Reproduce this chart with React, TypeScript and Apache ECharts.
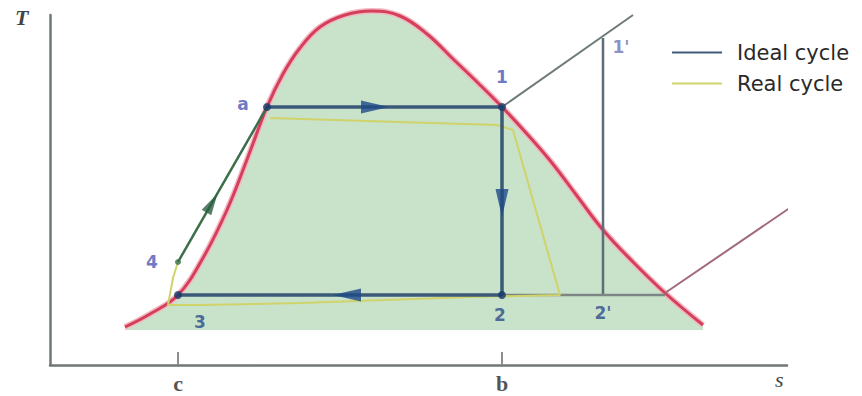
import React, { useEffect, useRef } from "react";
import * as echarts from "echarts";

// Coordinates in data units: s (entropy, horizontal) and T (temperature, vertical)
const domeS = [75, 100, 128, 153, 177, 198, 217, 233, 250, 270, 295, 322, 350, 377, 403, 428, 452, 477, 502, 527, 553, 583, 615, 653];
const domeT = [38, 51, 70, 107, 155, 208, 258, 291, 317, 338, 350, 354, 349, 331, 306, 282, 258, 231, 202, 169, 135, 103, 72, 40];

// ideal cycle: a -> 1 -> 2 -> 3
const idealS = [217, 452, 452, 128];
const idealT = [258, 258, 70, 70];
// liquid heating 4 -> a
const heatS = [128, 217];
const heatT = [103, 258];
// real cycle
const realS = [220, 447, 463, 510, 420, 250, 150, 118, 123, 128];
const realT = [247, 240, 235, 70, 68, 62, 60, 60, 87, 103];
// superheat isobar from 1, expansion 1'->2', condenser extension, right isobar
const superS = [452, 583];
const superT = [258, 350];
const expS = [553, 553];
const expT = [327, 70];
const condS = [452, 615];
const condT = [70, 70];
const rightS = [615, 747];
const rightT = [72, 162];

const pointNames = ["a", "1", "1'", "4", "3", "2", "2'"];
const pointLabelS = [193, 452, 571, 102, 150, 450, 553];
const pointLabelT = [261, 288, 318, 103, 43, 50, 52];
const pointLabelColors = ["#4656b4", "#4656b4", "#6a74b8", "#4656b4", "#2c4a8a", "#2c4a8a", "#2c4a8a"];

const dotS = [217, 452, 452, 128];
const dotT = [258, 258, 70, 70];

const arrowS = [325, 452, 297];
const arrowT = [258, 162, 70];
const arrowRot = [-90, 180, 90];

const tickValues = [128, 452];
const tickNames = ["c", "b"];

const legendNames = ["Ideal cycle", "Real cycle"];

const zip = (a: number[], b: number[]) => a.map((v, i) => [v, b[i]]);

export default function App() {
  const ref = useRef<HTMLDivElement>(null);
  useEffect(() => {
    if (!ref.current) return;
    const chart = echarts.init(ref.current, null, { renderer: "svg" });
    const greyLine = (data: number[][], color: string, width: number) => ({
      type: "line",
      data,
      showSymbol: false,
      clip: false,
      silent: true,
      lineStyle: { color, width },
      z: 3,
    });
    chart.setOption({
      animation: false,
      backgroundColor: "#ffffff",
      grid: { left: 50, right: 75, top: 15, bottom: 31, containLabel: false },
      xAxis: {
        type: "value",
        min: 0,
        max: 737,
        splitLine: { show: false },
        axisLine: { lineStyle: { color: "#6f7777", width: 2.5 } },
        axisTick: {
          show: true,
          inside: true,
          length: 13,
          customValues: tickValues,
          lineStyle: { color: "#8a9090", width: 2 },
        },
        axisLabel: {
          show: true,
          customValues: tickValues,
          margin: 7,
          formatter: (v: number) => tickNames[tickValues.indexOf(v)] ?? "",
          fontFamily: "Liberation Serif",
          fontWeight: "bold",
          fontSize: 22,
          color: "#555",
        },
      },
      yAxis: {
        type: "value",
        min: 0,
        max: 350,
        splitLine: { show: false },
        axisLine: { show: true, lineStyle: { color: "#6f7777", width: 2.5 } },
        axisTick: { show: false },
        axisLabel: { show: false },
      },
      legend: {
        orient: "vertical",
        left: 672,
        top: 42,
        padding: 0,
        icon: "rect",
        itemWidth: 50,
        itemHeight: 2,
        itemGap: 10,
        data: [
          { name: legendNames[0], itemStyle: { color: "#3e5a78" } },
          { name: legendNames[1], itemStyle: { color: "#d2d46a" } },
        ],
        textStyle: {
          fontFamily: "DejaVu Sans",
          fontSize: 21,
          lineHeight: 20,
          color: "#2a2a2a",
          padding: [0, 0, 0, 10],
        },
      },
      graphic: [
        {
          type: "text",
          left: 15,
          top: 6,
          style: {
            text: "T",
            font: "italic bold 22px 'Liberation Serif'",
            fill: "#444",
          },
        },
        {
          type: "text",
          left: 775,
          top: 368,
          style: {
            text: "s",
            font: "italic 22px 'Liberation Serif'",
            fill: "#444",
          },
        },
      ],
      series: [
        {
          type: "line",
          data: zip(domeS, domeT),
          smooth: 0.4,
          showSymbol: false,
          clip: false,
          silent: true,
          lineStyle: { color: "#f2b8c4", width: 6 },
          areaStyle: { color: "#c9e2ca", opacity: 1, origin: 35 },
          z: 1,
        },
        {
          type: "line",
          data: zip(domeS, domeT),
          smooth: 0.4,
          showSymbol: false,
          clip: false,
          silent: true,
          lineStyle: { color: "#d43f5a", width: 3 },
          z: 2,
        },
        greyLine(zip(superS, superT), "#6e7a7a", 2),
        greyLine(zip(expS, expT), "#5e6e78", 2.5),
        greyLine(zip(condS, condT), "#7d8585", 2.5),
        greyLine(zip(rightS, rightT), "#a06a7a", 2),
        {
          name: legendNames[1],
          type: "line",
          data: zip(realS, realT),
          showSymbol: false,
          clip: false,
          silent: true,
          lineStyle: { color: "#cfd36a", width: 2 },
          itemStyle: { color: "#d2d46a" },
          z: 4,
        },
        {
          type: "line",
          data: zip(heatS, heatT),
          showSymbol: false,
          clip: false,
          silent: true,
          lineStyle: { color: "#3b6f4a", width: 2.5 },
          z: 5,
        },
        {
          name: legendNames[0],
          type: "line",
          data: zip(idealS, idealT),
          showSymbol: false,
          clip: false,
          silent: true,
          lineStyle: { color: "#3a5a78", width: 3.5 },
          itemStyle: { color: "#3e5a78" },
          z: 6,
        },
        {
          type: "scatter",
          data: zip(dotS, dotT),
          symbol: "circle",
          symbolSize: 8,
          itemStyle: { color: "#163a6a" },
          silent: true,
          z: 8,
        },
        {
          type: "scatter",
          data: [heatS[0]].map((s, i) => [s, heatT[i]]),
          symbol: "circle",
          symbolSize: 6,
          itemStyle: { color: "#3b6f4a" },
          silent: true,
          z: 8,
        },
        {
          type: "scatter",
          data: arrowS.map((s, i) => ({ value: [s, arrowT[i]], symbolRotate: arrowRot[i] })),
          symbol: "triangle",
          symbolSize: [13, 28],
          itemStyle: { color: "#1f4a86" },
          silent: true,
          z: 9,
        },
        {
          type: "scatter",
          data: [{ value: [162, 162], symbolRotate: -30 }],
          symbol: "triangle",
          symbolSize: [11, 22],
          itemStyle: { color: "#2c5f40" },
          silent: true,
          z: 9,
        },
        {
          type: "scatter",
          data: pointNames.map((n, i) => ({
            value: [pointLabelS[i], pointLabelT[i]],
            name: n,
            label: { color: pointLabelColors[i] },
          })),
          symbolSize: 0,
          silent: true,
          label: {
            show: true,
            position: "inside",
            formatter: (p: any) => p.name,
            fontFamily: "DejaVu Sans",
            fontWeight: "bold",
            fontSize: 17,
          },
          z: 10,
        },
      ],
    });
    return () => chart.dispose();
  }, []);
  return (
    <div
      ref={ref}
      style={{ position: "fixed", left: 0, top: 0, width: 862, height: 396 }}
    />
  );
}
